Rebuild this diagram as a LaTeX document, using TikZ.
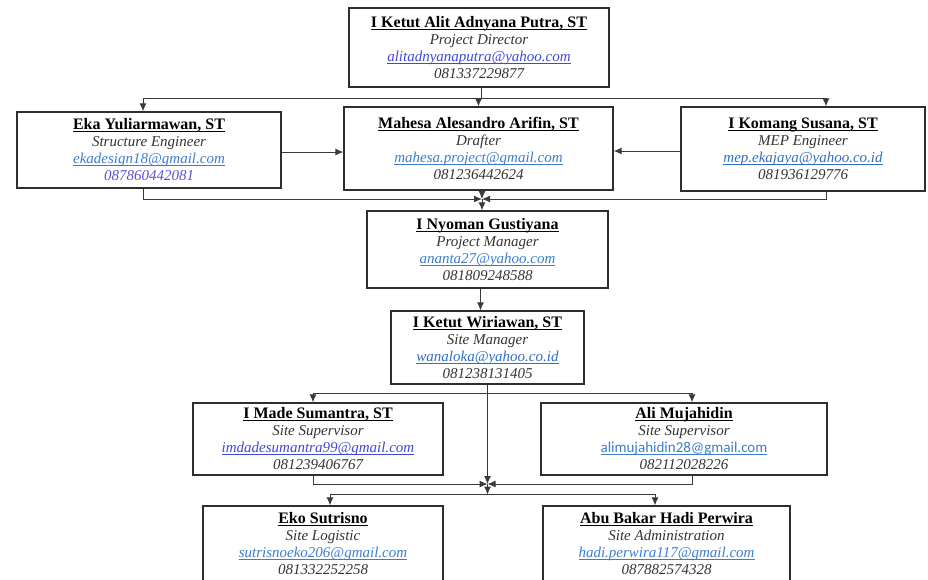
\documentclass[tikz,border=0pt]{standalone}
\usepackage{fontspec}
\setmainfont{Liberation Serif}
\newfontfamily\calib{Carlito}
\usetikzlibrary{arrows.meta,calc}
\definecolor{linec}{HTML}{3A3A3A}
\definecolor{boxc}{HTML}{2E2E2E}
\definecolor{txtc}{HTML}{333333}
\definecolor{emA}{HTML}{4048D8}
\definecolor{emB}{HTML}{3C7DCF}
\definecolor{emC}{HTML}{2F6FC4}
\definecolor{phB}{HTML}{5A52D6}
\newcommand\myul[3]{\setbox0\hbox{#3}\rlap{\usebox0}\rule[-#1]{\wd0}{#2}}
\newcommand\pname[1]{{\fontsize{16}{17}\selectfont\bfseries\myul{2.2pt}{1.1pt}{#1}}}
\newcommand\prole[1]{{\itshape\color{txtc}#1}}
\newcommand\pmail[2]{{\color{#1}\myul{1.8pt}{0.6pt}{\itshape #2}}}
\newcommand\pphone[1]{{\itshape\color{txtc}#1}}
\tikzset{
  box/.style 2 args={draw=boxc, line width=1.3pt, rectangle, inner sep=0pt, align=center,
    minimum width=#1pt, minimum height=#2pt, font=\fontsize{15}{17}\selectfont},
  conn/.style={draw=linec, line width=1pt},
  arr/.style={conn, -{Latex[length=8pt,width=7pt]}},
}
\begin{document}
\begin{tikzpicture}[x=1pt,y=-1pt]
\useasboundingbox (0,0) rectangle (928,579);
\fill[white] (0,0) rectangle (928,579);
\clip (0,0) rectangle (928,579);

\node[box={260}{79}] (dir) at (479,47.5) {\pname{I Ketut Alit Adnyana Putra, ST}\\ \prole{Project Director}\\ \pmail{emA}{alitadnyanaputra@yahoo.com}\\ \pphone{081337229877}};
\node[box={264}{76}] (eka) at (149,150) {\pname{Eka Yuliarmawan, ST}\\ \prole{Structure Engineer}\\ \pmail{emB}{ekadesign18@gmail.com}\\ {\itshape\color{phB}087860442081}};
\node[box={269}{83}] (mah) at (478.5,148.5) {\pname{Mahesa Alesandro Arifin, ST}\\ \prole{Drafter}\\ \pmail{emB}{mahesa.project@gmail.com}\\ \pphone{081236442624}};
\node[box={244}{84}] (kom) at (803,149) {\pname{I Komang Susana, ST}\\ \prole{MEP Engineer}\\ \pmail{emC}{mep.ekajaya@yahoo.co.id}\\ \pphone{081936129776}};
\node[box={241}{77}] (pm) at (487.5,249.5) {\pname{I Nyoman Gustiyana}\\ \prole{Project Manager}\\ \pmail{emB}{ananta27@yahoo.com}\\ \pphone{081809248588}};
\node[box={193}{73}] (sm) at (487.5,347.5) {\pname{I Ketut Wiriawan, ST}\\ \prole{Site Manager}\\ \pmail{emC}{wanaloka@yahoo.co.id}\\ \pphone{081238131405}};
\node[box={250}{72}] (made) at (318,439) {\pname{I Made Sumantra, ST}\\ \prole{Site Supervisor}\\ \pmail{emA}{imdadesumantra99@gmail.com}\\ \pphone{081239406767}};
\node[box={286}{72}] (ali) at (684,439) {\pname{Ali Mujahidin}\\ \prole{Site Supervisor}\\ {\calib\color{emB}\myul{1.8pt}{0.6pt}{alimujahidin28@gmail.com}}\\ \pphone{082112028226}};
\node[box={240}{76}] (eko) at (323,544) {\pname{Eko Sutrisno}\\ \prole{Site Logistic}\\ \pmail{emB}{sutrisnoeko206@gmail.com}\\ \pphone{081332252258}};
\node[box={247}{76}] (abu) at (666.5,544) {\pname{Abu Bakar Hadi Perwira}\\ \prole{Site Administration}\\ \pmail{emB}{hadi.perwira117@gmail.com}\\ \pphone{087882574328}};

% director to first row
\coordinate (b1) at (481,98);
\draw[conn] (dir.south -| b1) -- (b1);
\draw[arr] (b1) -| ([xshift=-6pt]eka.north);
\draw[arr] (mah.north |- b1) -- (mah.north);
\draw[arr] (b1) -| ([xshift=23pt]kom.north);
\draw[arr] ([yshift=-2pt]eka.east) -- ([yshift=-2pt]eka.east -| mah.west);
\draw[arr] ([yshift=-2pt]kom.west) -- ([yshift=-2pt]kom.west -| mah.east);

% first row to project manager
\coordinate (j2) at (482,199);
\draw[arr] ([xshift=-6pt]eka.south) |- (j2);
\draw[arr] ([xshift=23pt]kom.south) |- (j2);
\draw[arr] (mah.south -| j2) -- (j2);
\draw[arr] (j2) -- (j2 |- pm.north);

% project manager to site manager
\draw[arr] ([xshift=-7pt]pm.south) -- ([xshift=-7pt]sm.north);

% site manager to supervisors
\coordinate (b3) at (487.5,393);
\coordinate (j3) at (487.5,484);
\draw[arr] (sm.south) -- (j3);
\draw[arr] (b3) -| ([xshift=-5pt]made.north);
\draw[arr] (b3) -| ([xshift=8pt]ali.north);
\draw[arr] ([xshift=-5pt]made.south) |- (j3);
\draw[arr] ([xshift=8pt]ali.south) |- (j3);

% to logistic and administration
\coordinate (b4) at (487.5,494.5);
\draw[arr] (j3) -- (b4);
\draw[arr] (b4) -| ([xshift=7pt]eko.north);
\draw[arr] (b4) -| ([xshift=-11.5pt]abu.north);
\end{tikzpicture}
\end{document}
